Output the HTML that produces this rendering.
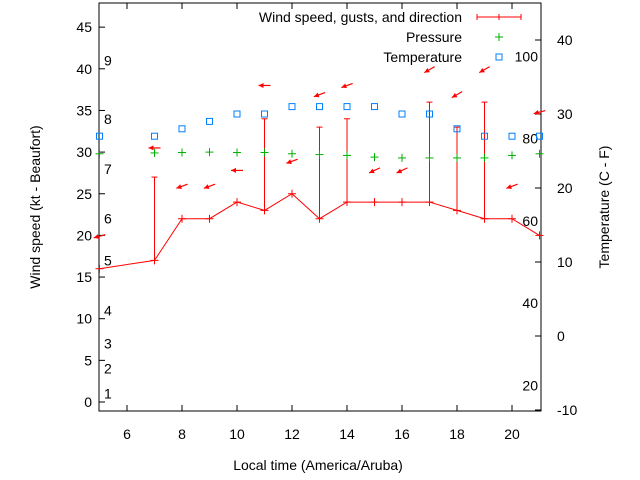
<!DOCTYPE html>
<html><head><meta charset="utf-8"><style>
body{margin:0;background:#fff}
svg{display:block;font-family:"Liberation Sans",sans-serif;font-size:14px}
</style></head><body>
<svg id="c" width="640" height="480"></svg>
<script>
const hours=[5,7,8,9,10,11,12,13,14,15,16,17,18,19,20,21];
const windKt=[16,17,22,22,24,23,25,22,24,24,24,24,23,22,22,20];
const gustHours=[7,11,13,14,17,18,19];
const gustKt=[27,34,33,34,36,33,36];
const dirLevel=[19.9,30.5,25.9,25.9,27.8,38,28.9,36.9,38,27.8,27.8,39.9,36.9,39.9,25.9,34.8];
const dirAngle=[15,0,20,20,0,0,20,20,20,25,25,30,30,30,20,15];
const pressureLevel=[29.8,29.9,29.95,30.0,29.95,29.95,29.8,29.7,29.6,29.4,29.3,29.3,29.3,29.3,29.6,29.8];
const tempC=[27,27,28,29,30,30,31,31,31,31,30,30,28,27,27,27];
const xTicks=[6,8,10,12,14,16,18,20];
const yTicks=[0,5,10,15,20,25,30,35,40,45];
const cTicks=[-10,0,10,20,30,40];
const fLabels=[20,40,60,80,100];
const beaufort=[[1,1],[2,4],[3,7],[4,11],[5,17],[6,22],[7,28],[8,34],[9,41]];

const L=99,R=541,T=3,B=411;
const X=h=>99.5+(h-5)*27.5;
const Y=v=>402-v*8.33;
const YC=c=>336-c*7.4;
const NS='http://www.w3.org/2000/svg';
const svg=document.getElementById('c');
function mk(tag,a,p){const e=document.createElementNS(NS,tag);for(const k in a)e.setAttribute(k,a[k]);(p||svg).appendChild(e);return e;}
function txt(x,y,s,anchor,name){const t=mk('text',{x:x,y:y,'text-anchor':anchor||'start',fill:'#000'});t.textContent=s;


return t;}

const box=mk('rect',{x:L,y:T,width:R-L,height:B-T,fill:'none',stroke:'#000','stroke-width':1});


xTicks.forEach(h=>{
  mk('line',{x1:X(h),x2:X(h),y1:B,y2:B-6,stroke:'#000'});
  mk('line',{x1:X(h),x2:X(h),y1:T,y2:T+6,stroke:'#000'});
  txt(X(h),439,String(h),'middle','x-tick-label');
});
yTicks.forEach(v=>{
  mk('line',{x1:L,x2:L+6,y1:Y(v),y2:Y(v),stroke:'#000'});
  txt(92,Y(v)+5,String(v),'end','y-tick-label');
});
cTicks.forEach(c=>{
  mk('line',{x1:R,x2:R-6,y1:YC(c),y2:YC(c),stroke:'#000'});
  txt(557,YC(c)+5,String(c),'start','y2-tick-label');
});
fLabels.forEach(f=>{
  txt(538,YC((f-32)/1.8)+5,String(f),'end','fahrenheit-label');
});
beaufort.forEach(b=>{
  txt(104,Y(b[1])+5,String(b[0]),'start','beaufort-label');
});

let t=txt(0,0,'Wind speed (kt - Beaufort)','middle','y-axis-title');
t.setAttribute('transform','translate(40,207) rotate(-90)');
t=txt(0,0,'Temperature (C - F)','middle','y2-axis-title');
t.setAttribute('transform','translate(609,207) rotate(-90)');
txt(318,470,'Local time (America/Aruba)','middle','x-axis-title');

gustHours.forEach((h,i)=>{
  const i2=hours.indexOf(h);
  const g=mk('g',{stroke:'#f00','stroke-width':1});
  
  
  mk('line',{x1:X(h),x2:X(h),y1:Y(windKt[i2]),y2:Y(gustKt[i])},g);
  mk('line',{x1:X(h)-3,x2:X(h)+3,y1:Y(gustKt[i]),y2:Y(gustKt[i])},g);
});
let pts=hours.map((h,i)=>X(h)+','+Y(windKt[i])).join(' ');
const wl=mk('polyline',{points:pts,fill:'none',stroke:'#f00','stroke-width':1});


hours.forEach((h,i)=>{
  const g=mk('g',{stroke:'#f00'});
  
  
  mk('line',{x1:X(h)-4,x2:X(h)+4,y1:Y(windKt[i]),y2:Y(windKt[i])},g);
  mk('line',{x1:X(h),x2:X(h),y1:Y(windKt[i])-4,y2:Y(windKt[i])+4},g);
});
hours.forEach((h,i)=>{
  const a=dirAngle[i]*Math.PI/180, cx=X(h), cy=Y(dirLevel[i]);
  const ux=-Math.cos(a), uy=Math.sin(a);
  const tipX=cx+ux*6, tipY=cy+uy*6, tailX=cx-ux*6, tailY=cy-uy*6;
  const px=-uy, py=ux;
  const g=mk('g',{});
  
  
  mk('line',{x1:tailX,y1:tailY,x2:tipX,y2:tipY,stroke:'#f00','stroke-width':1.2},g);
  const bx=tipX-ux*5, by=tipY-uy*5;
  mk('polygon',{points:tipX+','+tipY+' '+(bx+px*2.5)+','+(by+py*2.5)+' '+(bx-px*2.5)+','+(by-py*2.5),fill:'#f00'},g);
});
hours.forEach((h,i)=>{
  const g=mk('g',{stroke:'#00b000'});
  
  
  const y=Y(pressureLevel[i]);
  mk('line',{x1:X(h)-4,x2:X(h)+4,y1:y,y2:y},g);
  mk('line',{x1:X(h),x2:X(h),y1:y-4,y2:y+4},g);
});
hours.forEach((h,i)=>{
  const r=mk('rect',{x:X(h)-3,y:YC(tempC[i])-3,width:6,height:6,fill:'none',stroke:'#0080ff','stroke-width':1});
  
  
});

const lg=mk('g',{});


txt(462,22,'Wind speed, gusts, and direction','end','legend-wind-label');
mk('line',{x1:477,x2:521,y1:17,y2:17,stroke:'#f00'},lg);
mk('line',{x1:477,x2:477,y1:14,y2:20,stroke:'#f00'},lg);
mk('line',{x1:521,x2:521,y1:14,y2:20,stroke:'#f00'},lg);
mk('line',{x1:499,x2:499,y1:14,y2:20,stroke:'#f00'},lg);
txt(462,42,'Pressure','end','legend-pressure-label');
mk('line',{x1:495,x2:503,y1:37,y2:37,stroke:'#00b000'},lg);
mk('line',{x1:499,x2:499,y1:33,y2:41,stroke:'#00b000'},lg);
txt(462,62,'Temperature','end','legend-temperature-label');
mk('rect',{x:496,y:54,width:6,height:6,fill:'none',stroke:'#0080ff'},lg);
</script>
</body></html>
